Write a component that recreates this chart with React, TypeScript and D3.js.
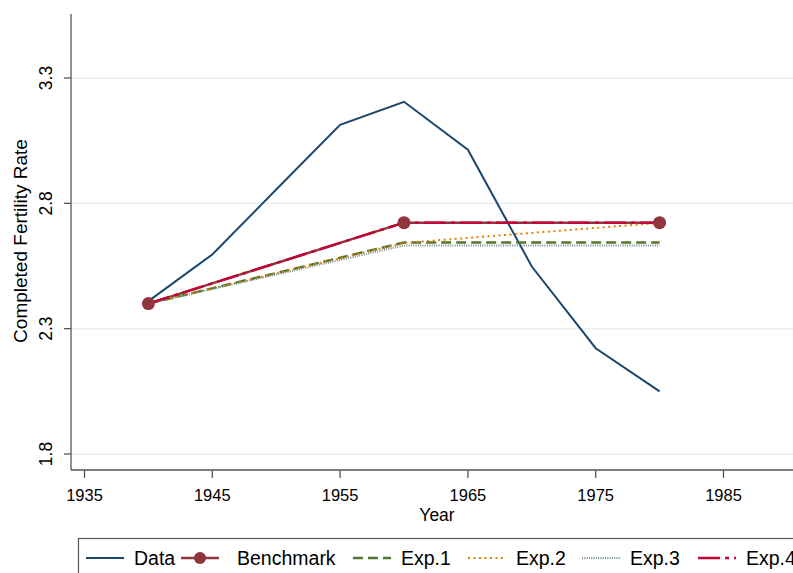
import * as d3 from "d3";

// cohort years
const years = [1940, 1945, 1950, 1955, 1960, 1965, 1970, 1975, 1980];
const dataCFR = [2.41, 2.596, 2.855, 3.113, 3.205, 3.014, 2.548, 2.222, 2.05];

// model runs are only solved at 1940, 1960, 1980
const modelYears = [1940, 1960, 1980];
const benchmark = [2.40, 2.723, 2.723];
const exp1 = [2.40, 2.644, 2.644];
const exp2 = [2.40, 2.642, 2.722];
const exp3 = [2.40, 2.632, 2.632];
const exp4 = [2.40, 2.723, 2.723];

const xTicks = [1935, 1945, 1955, 1965, 1975, 1985];
const yTicks = [1.8, 2.3, 2.8, 3.3];

const W = 793;
const H = 573;
const FONT = "'Liberation Sans', Arial, sans-serif";

type Series = {
  name: string;
  xs: number[];
  ys: number[];
  color: string;
  width: number;
  dash?: string;
  marker?: boolean;
};

const series: Series[] = [
  { name: "Data", xs: years, ys: dataCFR, color: "#1a476f", width: 2 },
  { name: "Benchmark", xs: modelYears, ys: benchmark, color: "#90353b", width: 2.5, marker: true },
  { name: "Exp.1", xs: modelYears, ys: exp1, color: "#55752f", width: 2.5, dash: "10,5" },
  { name: "Exp.2", xs: modelYears, ys: exp2, color: "#e37e00", width: 2, dash: "2,3.5" },
  { name: "Exp.3", xs: modelYears, ys: exp3, color: "#6e8e84", width: 2, dash: "1,1.3" },
  { name: "Exp.4", xs: modelYears, ys: exp4, color: "#c10534", width: 2.5, dash: "22,5,4,5" },
];

// legend key start positions (layout)
const legendX = [86, 181, 353, 468, 582, 698];

export default function App() {
  const axisX = 71;
  const axisTop = 14;
  const axisBottom = 470;

  const x = d3.scaleLinear().domain([1935, 1985]).range([84.5, 723.5]);
  const y = d3.scaleLinear().domain([1.8, 3.3]).range([454, 78]);

  const line = d3
    .line<[number, number]>()
    .x((d) => x(d[0]))
    .y((d) => y(d[1]));

  const bench = series[1];

  return (
    <svg
      width={W}
      height={H}
      style={{ position: "absolute", left: 0, top: 0, background: "#fff" }}
      fontFamily={FONT}
    >
      <rect width={W} height={H} fill="#fff" />

      {/* gridlines */}
      {yTicks.map((t) => (
        <line key={"g" + t} x1={axisX} x2={W + 10} y1={y(t)} y2={y(t)} stroke="#e6eff1" strokeWidth={1.5} />
      ))}

      {/* axes */}
      <line x1={axisX} x2={axisX} y1={axisTop} y2={axisBottom} stroke="#555" strokeWidth={1.3} />
      <line x1={axisX} x2={W + 10} y1={axisBottom} y2={axisBottom} stroke="#555" strokeWidth={1.3} />

      {yTicks.map((t) => (
        <g key={"y" + t}>
          <line x1={axisX - 7} x2={axisX} y1={y(t)} y2={y(t)} stroke="#555" strokeWidth={1.3} />
          <text
            transform={`translate(${52},${y(t)}) rotate(-90)`}
            textAnchor="middle"
            fontSize={17.5}
            fill="#000"
          >
            {t.toFixed(1)}
          </text>
        </g>
      ))}

      {xTicks.map((t) => (
        <g key={"x" + t}>
          <line x1={x(t)} x2={x(t)} y1={axisBottom} y2={axisBottom + 8} stroke="#555" strokeWidth={1.3} />
          <text x={x(t)} y={501} textAnchor="middle" fontSize={16.5} fill="#000">
            {t}
          </text>
        </g>
      ))}

      <text x={437} y={521} textAnchor="middle" fontSize={17.5} fill="#000">
        Year
      </text>
      <text transform={`translate(27,241) rotate(-90)`} textAnchor="middle" fontSize={19} fill="#000">
        Completed Fertility Rate
      </text>

      {/* series */}
      {series.map((s) => (
        <path
          key={s.name}
          d={line(s.xs.map((v, i) => [v, s.ys[i]] as [number, number])) || ""}
          fill="none"
          stroke={s.color}
          strokeWidth={s.width}
          strokeDasharray={s.dash}
        />
      ))}
      {bench.xs.map((v, i) => (
        <circle key={"m" + i} cx={x(v)} cy={y(bench.ys[i])} r={6.5} fill={bench.color} />
      ))}

      {/* legend */}
      <rect x={78.5} y={538.5} width={W} height={60} fill="#fff" stroke="#555" strokeWidth={1.2} />
      {series.map((s, i) => {
        const x0 = legendX[i];
        const kw = 38;
        return (
          <g key={"l" + s.name}>
            <line
              x1={x0}
              x2={x0 + kw}
              y1={558}
              y2={558}
              stroke={s.color}
              strokeWidth={s.width}
              strokeDasharray={s.dash}
            />
            {s.marker && <circle cx={x0 + kw / 2} cy={558} r={6} fill={s.color} />}
            <text x={x0 + kw + (i === 1 ? 18 : 10)} y={565} fontSize={19.5} fill="#000">
              {s.name}
            </text>
          </g>
        );
      })}
    </svg>
  );
}
